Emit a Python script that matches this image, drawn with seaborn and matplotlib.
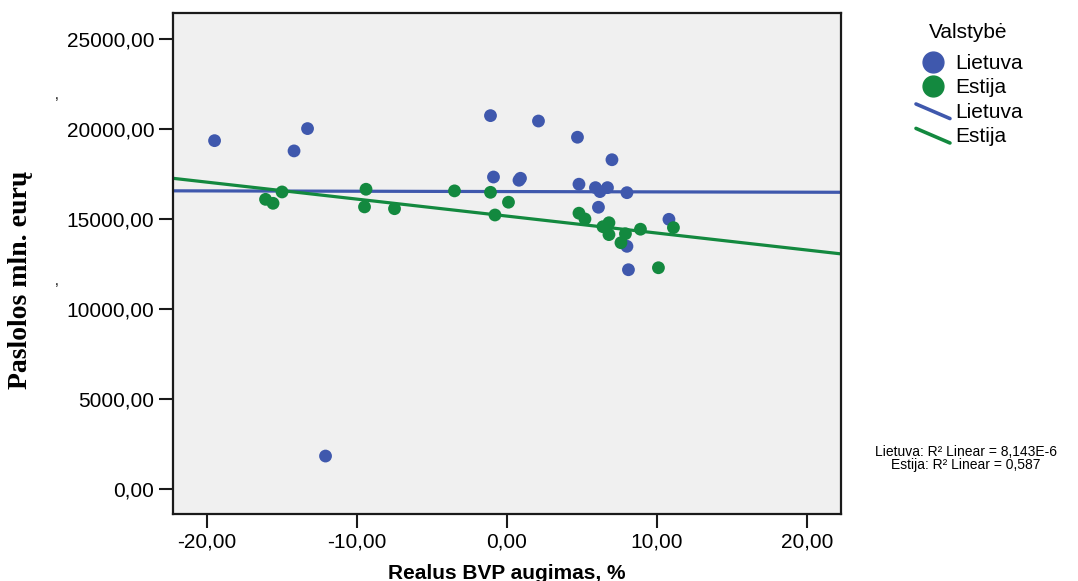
import numpy as np
import pandas as pd
import matplotlib
matplotlib.use('Agg')
import matplotlib.pyplot as plt
import seaborn as sns
from matplotlib.lines import Line2D
from matplotlib.legend_handler import HandlerBase
from matplotlib.ticker import FuncFormatter, MultipleLocator

# Lietuva
lt_bvp = [-19.5, -13.3, -14.2, -12.1, -1.1, 2.1, 4.7, 7.0, -0.9, 0.9,
          0.8, 4.8, 5.9, 6.2, 6.7, 8.0, 6.1, 10.8, 8.0, 8.1]
lt_pasl = [19350, 20020, 18780, 1830, 20740, 20440, 19540, 18290, 17330, 17260,
           17150, 16930, 16740, 16520, 16740, 16460, 15650, 14980, 13480, 12180]

# Estija
ee_bvp = [-16.1, -15.6, -15.0, -9.4, -9.5, -7.5, -3.5, -1.1, 0.1, -0.8,
          4.8, 5.2, 6.8, 6.4, 6.8, 7.9, 7.6, 8.9, 11.1, 10.1]
ee_pasl = [16090, 15870, 16500, 16650, 15670, 15570, 16560, 16480, 15930, 15220,
           15320, 15000, 14790, 14570, 14130, 14180, 13680, 14430, 14520, 12290]

valstybes = ['Lietuva', 'Estija']
r2_texts = ['Lietuva: R² Linear = 8,143E-6', 'Estija: R² Linear = 0,587']
colors = {'Lietuva': '#3f58ad', 'Estija': '#13893f'}

df = pd.DataFrame({
    'bvp': lt_bvp + ee_bvp,
    'pasl': lt_pasl + ee_pasl,
    'Valstybė': ['Lietuva'] * len(lt_bvp) + ['Estija'] * len(ee_bvp),
})

sns.set_style('white')
plt.rcParams['font.family'] = ['Liberation Sans', 'DejaVu Sans']
plt.rcParams['text.color'] = 'black'
plt.rcParams['axes.labelcolor'] = 'black'

fig = plt.figure(figsize=(10.78, 5.81), dpi=100)
ax = fig.add_axes([0.1605, 0.1153, 0.6196, 0.8623])
ax.set_facecolor('#f0f0f0')

xlim = (-22.27, 22.27)
ylim = (-1390, 26440)
ax.set_xlim(xlim)
ax.set_ylim(ylim)

sns.scatterplot(data=df, x='bvp', y='pasl', hue='Valstybė', palette=colors,
                hue_order=valstybes, s=85, edgecolor='none', legend=False, ax=ax, zorder=3)

for v in valstybes:
    sub = df[df['Valstybė'] == v]
    sns.regplot(data=sub, x='bvp', y='pasl', scatter=False, ci=None, truncate=False,
                color=colors[v], line_kws={'lw': 2.3, 'zorder': 2}, ax=ax)

ax.set_xlim(xlim)
ax.set_ylim(ylim)

fmt = FuncFormatter(lambda v, p: f'{v:.2f}'.replace('.', ','))
ax.xaxis.set_major_locator(MultipleLocator(10))
ax.yaxis.set_major_locator(MultipleLocator(5000))
ax.xaxis.set_major_formatter(fmt)
ax.yaxis.set_major_formatter(fmt)
ax.tick_params(axis='both', direction='out', length=10, width=1.5, labelsize=15,
               bottom=True, left=True, colors='#1a1a1a', labelcolor='black')
for sp in ax.spines.values():
    sp.set_color('#1a1a1a')
    sp.set_linewidth(1.6)

ax.set_xlabel('Realus BVP augimas, %', fontsize=15, fontweight='bold')
ax.xaxis.set_label_coords(0.5, -0.118)
ax.xaxis.label.set_va('center')
ax.set_ylabel('Paslolos mln. eurų', fontsize=20, fontweight='bold',
              family=['Liberation Serif', 'DejaVu Serif'])
ax.yaxis.set_label_coords(-0.21, 0.467)

fig.text(0.051, 0.83, ',', fontsize=10)
fig.text(0.051, 0.51, ',', fontsize=10)


class DiagHandler(HandlerBase):
    def create_artists(self, legend, orig_handle, xdescent, ydescent, width, height, fontsize, trans):
        ln = Line2D([-xdescent, width - xdescent], [height * 0.95 - ydescent, -height * 0.05 - ydescent],
                    color=orig_handle.get_color(), lw=orig_handle.get_linewidth())
        ln.set_transform(trans)
        return [ln]


fig.text(968 / 1078, 1 - 33 / 581, 'Valstybė', fontsize=15, ha='center', va='center')

handles = [Line2D([], [], marker='o', ls='', markersize=15, color=colors[v]) for v in valstybes]
handles += [Line2D([], [], color=colors[v], lw=2.6) for v in valstybes]
labels = valstybes + valstybes
leg = fig.legend(handles, labels, loc='upper left',
                 bbox_to_anchor=(916 / 1078, 1 - 54 / 581), frameon=False, fontsize=15,
                 handlelength=1.63, handletextpad=0.25, borderpad=0, borderaxespad=0,
                 labelspacing=0.26,
                 handler_map={handles[2]: DiagHandler(), handles[3]: DiagHandler()})

fig.text(0.896, 0.222, r2_texts[0], fontsize=10, ha='center', va='center')
fig.text(0.896, 0.199, r2_texts[1], fontsize=10, ha='center', va='center')

fig.savefig('out.png', dpi=100)
